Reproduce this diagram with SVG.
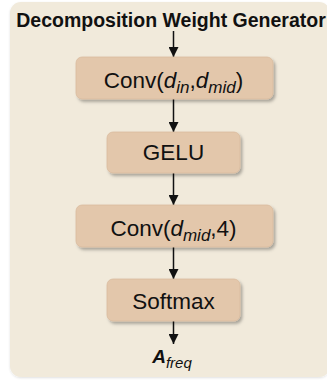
<svg xmlns="http://www.w3.org/2000/svg" width="327" height="380" viewBox="0 0 327 380">
  <style>
    .title { font-family: "Liberation Sans", Arial, sans-serif; font-weight: bold; font-size: 19.5px; fill: #111; }
    .node rect { fill: #e3c7ab; stroke: #d9bb9e; stroke-width: 0.8; }
    .label { font-family: "Liberation Sans", Arial, sans-serif; font-size: 22.5px; fill: #111; }
    .it { font-style: italic; }
    .sub { font-style: italic; font-size: 17px; }
    .conn line { stroke: #111; stroke-width: 1.5; }
  </style>
  <defs>
    <filter id="sh" x="-10%" y="-20%" width="130%" height="160%">
      <feDropShadow dx="2" dy="2.5" stdDeviation="1.5" flood-color="#000" flood-opacity="0.3"/>
    </filter>
    <filter id="psh" x="-5%" y="-5%" width="110%" height="110%">
      <feDropShadow dx="0" dy="1" stdDeviation="1" flood-color="#000" flood-opacity="0.12"/>
    </filter>
    <marker id="arr" viewBox="0 0 10 10" refX="10" refY="5" markerWidth="10" markerHeight="10" markerUnits="userSpaceOnUse" orient="auto">
      <path d="M0,0 L10,5 L0,10 Z" fill="#111"/>
    </marker>
  </defs>

  <rect id="panel" x="10" y="2" width="320" height="375" rx="11" fill="#f1eadb" filter="url(#psh)"/>
  <text class="title" x="171" y="27" text-anchor="middle">Decomposition Weight Generator</text>

  <g id="connectors" class="conn">
    <line x1="173.5" y1="31" x2="173.5" y2="57" marker-end="url(#arr)"/>
    <line x1="173.5" y1="99" x2="173.5" y2="132" marker-end="url(#arr)"/>
    <line x1="173.5" y1="173" x2="173.5" y2="205" marker-end="url(#arr)"/>
    <line x1="173.5" y1="247" x2="173.5" y2="279" marker-end="url(#arr)"/>
    <line x1="173.5" y1="321" x2="173.5" y2="344" marker-end="url(#arr)"/>
  </g>

  <g id="conv1" class="node">
    <rect x="76" y="57" width="197" height="42" rx="6" filter="url(#sh)"/>
    <text class="label" x="173.5" y="88" text-anchor="middle">Conv(<tspan class="it">d</tspan><tspan class="sub" dy="5">in</tspan><tspan dy="-5">,</tspan><tspan class="it">d</tspan><tspan class="sub" dy="5">mid</tspan><tspan dy="-5">)</tspan></text>
  </g>

  <g id="gelu" class="node">
    <rect x="107" y="132" width="133" height="41" rx="6" filter="url(#sh)"/>
    <text class="label" x="173.5" y="160" text-anchor="middle">GELU</text>
  </g>

  <g id="conv2" class="node">
    <rect x="76" y="205" width="197" height="42" rx="6" filter="url(#sh)"/>
    <text class="label" x="173.5" y="236" text-anchor="middle">Conv(<tspan class="it">d</tspan><tspan class="sub" dy="5">mid</tspan><tspan dy="-5">,4)</tspan></text>
  </g>

  <g id="softmax" class="node">
    <rect x="107" y="279" width="133" height="42" rx="6" filter="url(#sh)"/>
    <text class="label" x="173.5" y="309" text-anchor="middle">Softmax</text>
  </g>

  <g id="output">
    <text x="172" y="363" text-anchor="middle" style="font-family: 'Liberation Sans', Arial, sans-serif; fill:#111;"><tspan style="font-weight:bold; font-style:italic; font-size:19px;">A</tspan><tspan dy="5" style="font-style:italic; font-size:15px;">freq</tspan></text>
  </g>
</svg>
